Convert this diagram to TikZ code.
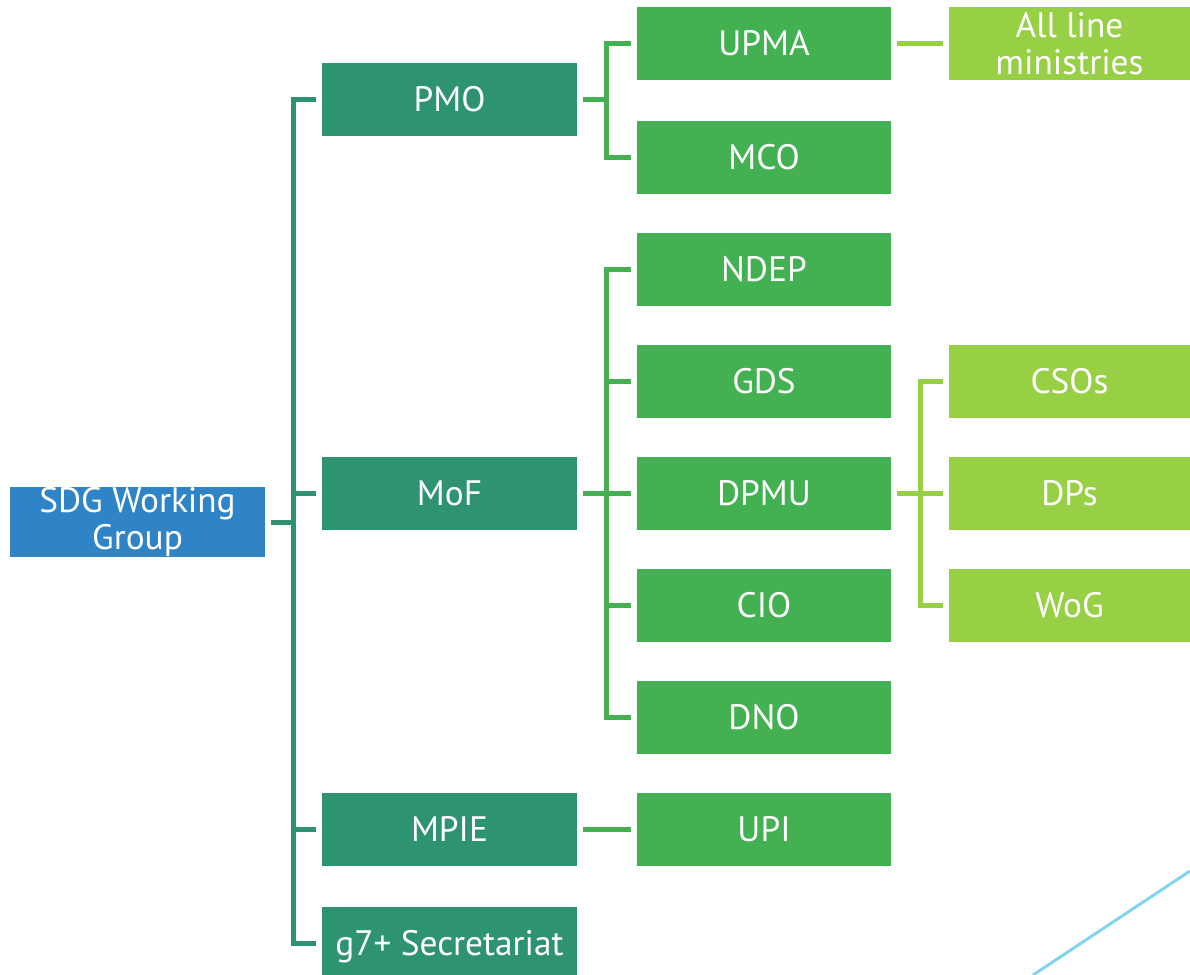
\documentclass[tikz,border=0pt]{standalone}
\usepackage{fontspec}
\setmainfont{PT Sans}
\usetikzlibrary{positioning,calc}

\definecolor{sdgblue}{HTML}{2E84C6}
\definecolor{dkgreen}{HTML}{2E9470}
\definecolor{mdgreen}{HTML}{43B051}
\definecolor{ltgreen}{HTML}{97D045}
\definecolor{skyline}{HTML}{82D4F0}

\begin{document}
\begin{tikzpicture}[x=0.75pt,y=-0.75pt,
                    every node/.style={text=white, inner sep=0pt, align=center,
                                       font=\fontsize{26.5}{27.5}\selectfont},
                    onerow/.style={text height=18.4pt, text depth=0pt},
                    rootbox/.style={fill=sdgblue, minimum width=191.25pt, minimum height=52.5pt},
                    unitbox/.style={fill=dkgreen, minimum width=191.25pt, minimum height=54.75pt},
                    deptbox/.style={fill=mdgreen, minimum width=190.5pt, minimum height=54.75pt},
                    partbox/.style={fill=ltgreen, minimum width=180.75pt, minimum height=54.75pt},
                    conn/.style={line width=3.75pt, shorten <=4.5pt, shorten >=4.5pt}]

  \useasboundingbox (0,0) rectangle (1190,975);

  % root
  \node[rootbox] at (137.5,522)          (sdg)   {SDG Working\\Group};

  % first level
  \node[unitbox,onerow] at (449.5,99.5)  (pmo)   {PMO};
  \node[unitbox,onerow] at (449.5,493.5) (mof)   {MoF};
  \node[unitbox,onerow] at (449.5,829.5) (mpie)  {MPIE};
  \node[unitbox,onerow] at (449.5,943.5) (g7)    {g7+ Secretariat};

  % second level
  \node[deptbox,onerow] at (764,43.5)    (upma)  {UPMA};
  \node[deptbox,onerow] at (764,157)     (mco)   {MCO};
  \node[deptbox,onerow] at (764,269.5)   (ndep)  {NDEP};
  \node[deptbox,onerow] at (764,381.5)   (gds)   {GDS};
  \node[deptbox,onerow] at (764,493.5)   (dpmu)  {DPMU};
  \node[deptbox,onerow] at (764,605.5)   (cio)   {CIO};
  \node[deptbox,onerow] at (764,717.5)   (dno)   {DNO};
  \node[deptbox,onerow] at (764,829.5)   (upi)   {UPI};

  % third level
  \node[partbox] at (1069.5,43.5)        (lines) {All line\\ministries};
  \node[partbox,onerow] at (1069.5,381.5) (csos) {CSOs};
  \node[partbox,onerow] at (1069.5,493.5) (dps)  {DPs};
  \node[partbox,onerow] at (1069.5,605.5) (wog)  {WoG};

  % connectors
  \foreach \n in {pmo,mof,mpie,g7}
    \draw[conn,dkgreen] (sdg.east) -- ++(28.5,0) |- (\n.west);
  \foreach \n in {upma,mco}
    \draw[conn,mdgreen] (pmo.east) -- ++(29.5,0) |- (\n.west);
  \foreach \n in {ndep,gds,dpmu,cio,dno}
    \draw[conn,mdgreen] (mof.east) -- ++(29.5,0) |- (\n.west);
  \draw[conn,mdgreen] (mpie.east) -- (upi.west);
  \draw[conn,ltgreen] (upma.east) -- (lines.west);
  \foreach \n in {csos,dps,wog}
    \draw[conn,ltgreen] (dpmu.east) -- ++(29,0) |- (\n.west);

  % corner stroke
  \draw[skyline, line width=2.25pt] (1033,975) -- (1190,871);

\end{tikzpicture}
\end{document}
